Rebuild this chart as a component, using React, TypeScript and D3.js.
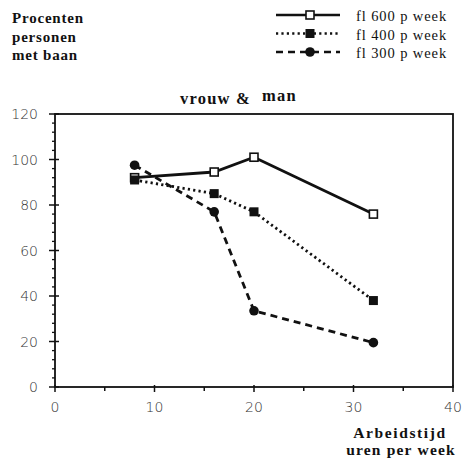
import React from "react";
import * as d3 from "d3";

const hours = [8, 16, 20, 32];
const wage600 = [92, 94.5, 101, 76];
const wage400 = [91, 85, 77, 38];
const wage300 = [97.5, 77, 33.5, 19.5];
const seriesNames = ["fl 600 p week", "fl 400 p week", "fl 300 p week"];
const xTicks = [0, 10, 20, 30, 40];
const yTicks = [0, 20, 40, 60, 80, 100, 120];

const W = 462, H = 459;
const left = 55, right = 453, top = 114, bottom = 387;

export default function App() {
  const x = d3.scaleLinear().domain([0, 40]).range([left, right]);
  const y = d3.scaleLinear().domain([0, 120]).range([bottom, top]);
  const line = d3.line<[number, number]>().x(d => x(d[0])).y(d => y(d[1]));
  const series = [
    { name: seriesNames[0], vals: wage600, dash: "none", marker: "open" },
    { name: seriesNames[1], vals: wage400, dash: "2.2 3.2", marker: "square" },
    { name: seriesNames[2], vals: wage300, dash: "7 5", marker: "circle" },
  ];
  const minorY = d3.range(0, 121, 4).filter(v => v % 20 !== 0);
  const minorX = [5, 15, 25, 35];
  const sans = "'DejaVu Sans', 'Liberation Sans', Arial, sans-serif";
  const serif = "'Liberation Serif', 'Times New Roman', serif";

  const marker = (kind: string, cx: number, cy: number, key: any) => {
    if (kind === "open") return <rect key={key} x={cx - 4} y={cy - 4} width={8} height={8} fill="#fff" stroke="#111" strokeWidth={1.6} />;
    if (kind === "square") return <rect key={key} x={cx - 4.5} y={cy - 4.5} width={9} height={9} fill="#111" />;
    return <circle key={key} cx={cx} cy={cy} r={4.8} fill="#111" />;
  };

  return (
    <svg width={W} height={H} style={{ position: "absolute", left: 0, top: 0, background: "#fff" }}>
      {/* left labels */}
      {["Procenten", "personen", "met baan"].map((t, i) => (
        <text key={t} x={12} y={23 + i * 18.5} fontFamily={serif} fontWeight="bold" fontSize={15} letterSpacing={0.8} fill="#111">{t}</text>
      ))}
      {/* legend */}
      {series.map((s, i) => {
        const ly = 15 + i * 18.5;
        return (
          <g key={s.name}>
            <line x1={276} x2={340} y1={ly} y2={ly} stroke="#111" strokeWidth={2.6} strokeDasharray={s.dash} />
            {marker(s.marker, 310, ly, "m")}
            <text x={356} y={ly + 6} fontFamily={serif} fontSize={14.5} letterSpacing={0.9} fill="#111">{s.name}</text>
          </g>
        );
      })}
      {/* title */}
      <text x={180} y={104} fontFamily={serif} fontWeight="bold" fontSize={16.5} letterSpacing={1.2} fill="#111">vrouw &amp;</text>
      <text x={262} y={101} fontFamily={serif} fontWeight="bold" fontSize={16.5} letterSpacing={1.2} fill="#111">man</text>
      {/* frame */}
      <rect x={left} y={top} width={right - left} height={bottom - top} fill="none" stroke="#111" strokeWidth={1.8} />
      {/* y ticks */}
      {yTicks.map(v => (
        <g key={"y" + v}>
          <line x1={left - 6} x2={left + 4} y1={y(v)} y2={y(v)} stroke="#111" strokeWidth={1.5} />
          <text x={left - 17} y={y(v) + 5} textAnchor="end" fontFamily={sans} fontWeight={300} fontSize={14} fill="#333">{v}</text>
        </g>
      ))}
      {minorY.map(v => (
        <line key={"my" + v} x1={left - 3} x2={left} y1={y(v)} y2={y(v)} stroke="#111" strokeWidth={1.3} />
      ))}
      {/* x ticks */}
      {xTicks.map(v => (
        <g key={"x" + v}>
          <line x1={x(v)} x2={x(v)} y1={bottom - 2} y2={bottom + 5} stroke="#111" strokeWidth={1.5} />
          <text x={x(v)} y={bottom + 25} textAnchor="middle" fontFamily={sans} fontWeight={300} fontSize={14} fill="#333">{v}</text>
        </g>
      ))}
      {minorX.map(v => (
        <line key={"mx" + v} x1={x(v)} x2={x(v)} y1={bottom} y2={bottom + 4} stroke="#111" strokeWidth={1.5} />
      ))}
      <text x={400} y={438} textAnchor="middle" fontFamily={serif} fontWeight="bold" fontSize={15.5} letterSpacing={1.6} fill="#111">Arbeidstijd</text>
      <text x={401} y={455} textAnchor="middle" fontFamily={serif} fontWeight="bold" fontSize={15.5} letterSpacing={1.2} fill="#111">uren per week</text>
      {/* series */}
      {series.map(s => {
        const pts = hours.map((h, i) => [h, s.vals[i]] as [number, number]);
        return (
          <g key={s.name}>
            <path d={line(pts) || ""} fill="none" stroke="#111" strokeWidth={2.8} strokeDasharray={s.dash} />
            {pts.map((p, i) => marker(s.marker, x(p[0]), y(p[1]), i))}
          </g>
        );
      })}
    </svg>
  );
}
